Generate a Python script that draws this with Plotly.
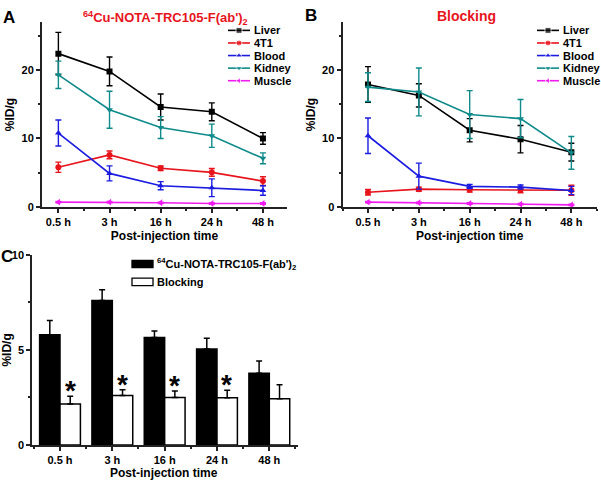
import plotly.graph_objects as go

## dados
times = ['0.5 h', '3 h', '16 h', '24 h', '48 h']
organs = ['Liver', '4T1', 'Blood', 'Kidney', 'Muscle']

# painel A - 64Cu-NOTA-TRC105-F(ab')2
a_liver = [22.4, 19.8, 14.6, 13.9, 10.0]
a_liver_err = [3.1, 2.1, 1.9, 1.3, 0.85]
a_4t1 = [5.8, 7.6, 5.65, 5.05, 3.77]
a_4t1_err = [0.75, 0.57, 0.34, 0.56, 0.65]
a_blood = [10.8, 4.9, 3.1, 2.8, 2.4]
a_blood_err = [1.9, 1.1, 0.6, 1.3, 0.7]
a_kidney = [19.3, 14.2, 11.6, 10.4, 7.1]
a_kidney_err = [2.0, 2.7, 1.6, 1.7, 0.8]
a_muscle = [0.7, 0.7, 0.6, 0.5, 0.5]
a_muscle_err = [0.1, 0.1, 0.1, 0.1, 0.1]

# painel B - Blocking
b_liver = [17.9, 16.3, 11.2, 9.9, 8.0]
b_liver_err = [2.6, 1.7, 1.7, 2.0, 1.3]
b_4t1 = [2.15, 2.6, 2.5, 2.48, 2.43]
b_4t1_err = [0.41, 0.3, 0.34, 0.4, 0.74]
b_blood = [10.4, 4.5, 3.0, 2.9, 2.4]
b_blood_err = [2.6, 1.9, 0.3, 0.3, 0.6]
b_kidney = [17.5, 16.8, 13.5, 12.9, 7.9]
b_kidney_err = [2.1, 3.5, 3.5, 2.8, 2.4]
b_muscle = [0.7, 0.6, 0.5, 0.4, 0.3]
b_muscle_err = [0.1, 0.1, 0.1, 0.1, 0.1]

signif = [True, True, True, True, False]

colors = ['black', '#e8141c', '#1c1ce0', '#0f8a8a', '#f01cf0']
symbols = ['square', 'circle', 'triangle-up', 'triangle-down', 'triangle-left']
bar_names = ['<sup>64</sup>Cu-NOTA-TRC105-F(ab\')<sub>2</sub>', 'Blocking']
bar_fill = ['black', 'white']

FONT = 'Liberation Sans, Arial, sans-serif'

# posicao numerica das categorias (para ter ticks menores entre elas)
idx = list(range(len(times)))
between = [i - 0.5 for i in idx] + [idx[-1] + 0.5]

fig = go.Figure()

panel_a = [(a_liver, a_liver_err), (a_4t1, a_4t1_err), (a_blood, a_blood_err),
           (a_kidney, a_kidney_err), (a_muscle, a_muscle_err)]
panel_b = [(b_liver, b_liver_err), (b_4t1, b_4t1_err), (b_blood, b_blood_err),
           (b_kidney, b_kidney_err), (b_muscle, b_muscle_err)]

for panel, xa, ya in [(panel_a, 'x', 'y'), (panel_b, 'x2', 'y2')]:
    for i, (vals, errs) in enumerate(panel):
        fig.add_trace(go.Scatter(x=idx, y=vals, xaxis=xa, yaxis=ya,
                                 mode='lines+markers', name=organs[i], showlegend=False,
                                 line=dict(color=colors[i], width=1.6),
                                 marker=dict(symbol=symbols[i], size=6, color=colors[i]),
                                 error_y=dict(type='data', array=errs, color=colors[i],
                                              thickness=1.4, width=3)))

# legendas compactas (A e B) num eixo auxiliar em pixels
for x0 in [228, 537]:
    for i, name in enumerate(organs):
        row = 25 + 12.9 * i
        fig.add_trace(go.Scatter(x=[x0, x0 + 11, x0 + 22], y=[row] * 3, xaxis='x4', yaxis='y4',
                                 mode='lines+markers', showlegend=False, hoverinfo='skip',
                                 line=dict(color=colors[i], width=1.6),
                                 marker=dict(symbol=symbols[i], size=[0, 6, 0], color=colors[i])))
        fig.add_annotation(x=x0 + 24, y=row, xref='x4', yref='y4', text=name, showarrow=False,
                           xanchor='left', yanchor='middle',
                           font=dict(size=11, color='black', family=FONT, weight='bold'))

# painel C - barras 4T1
for vals, errs, name, fill in [(a_4t1, a_4t1_err, bar_names[0], bar_fill[0]),
                               (b_4t1, b_4t1_err, bar_names[1], bar_fill[1])]:
    fig.add_trace(go.Bar(x=idx, y=vals, xaxis='x3', yaxis='y3', name=name, showlegend=False,
                         marker=dict(color=fill, line=dict(color='black', width=1.5)),
                         error_y=dict(type='data', symmetric=False, array=errs,
                                      arrayminus=[0] * 5, color='black', thickness=1.5, width=3)))

# legenda do painel C (retangulos largos como no original)
for i, (name, fill) in enumerate(zip(bar_names, bar_fill)):
    row = 264.5 + 18.3 * i
    fig.add_shape(type='rect', xref='x4', yref='y4', x0=132, x1=153, y0=row - 3.8, y1=row + 3.8,
                  fillcolor=fill, line=dict(color='black', width=1.3))
    fig.add_annotation(x=155, y=row, xref='x4', yref='y4', text=name, showarrow=False,
                       xanchor='left', yanchor='middle',
                       font=dict(size=11, color='black', family=FONT, weight='bold'))

# asteriscos
for i, v, e, s in zip(idx, b_4t1, b_4t1_err, signif):
    if s:
        fig.add_annotation(x=i, y=v + e, xref='x3', yref='y3', text='*',
                           showarrow=False, yanchor='bottom', xshift=10, yshift=-12,
                           font=dict(size=28, color='black', family=FONT, weight='bold'))

axis_common = dict(showline=True, linecolor='#222222', linewidth=2, showgrid=False,
                   zeroline=False, ticks='outside', ticklen=4, tickwidth=1.5,
                   tickcolor='#222222',
                   tickfont=dict(size=11, color='black', family=FONT, weight='bold'))
title_font = dict(size=12, color='black', family=FONT, weight='bold')
minor_t = dict(ticklen=2, ticks='outside', tickcolor='#222222', tickwidth=1.5)
x_ticks = dict(tickmode='array', tickvals=idx, ticktext=times,
               minor=dict(tickvals=between, **minor_t))

fig.update_layout(
    width=601, height=487,
    margin=dict(l=0, r=0, t=0, b=0),
    paper_bgcolor='white', plot_bgcolor='rgba(0,0,0,0)',
    font=dict(family=FONT, color='black'),
    barmode='group', bargap=0.22, bargroupgap=0,
    xaxis=dict(domain=[0.0699, 0.4775], range=[-0.32, 4.47], anchor='y',
               title=dict(text='Post-injection time', font=title_font, standoff=4),
               **x_ticks, **axis_common),
    yaxis=dict(domain=[0.577, 0.966], range=[0, 27], anchor='x', tickvals=[0, 10, 20],
               minor=dict(tickvals=[5, 15, 25], **minor_t),
               title=dict(text='%ID/g', font=title_font, standoff=4), **axis_common),
    xaxis2=dict(domain=[0.570, 0.993], range=[-0.5, 4.5], anchor='y2',
                title=dict(text='Post-injection time', font=title_font, standoff=4),
                **x_ticks, **axis_common),
    yaxis2=dict(domain=[0.577, 0.966], range=[0, 27], anchor='x2', tickvals=[0, 10, 20],
                minor=dict(tickvals=[5, 15, 25], **minor_t),
                title=dict(text='%ID/g', font=title_font, standoff=4), **axis_common),
    xaxis3=dict(domain=[0.0537, 0.496], range=[-0.53, 4.55], anchor='y3',
                **x_ticks, **axis_common),
    yaxis3=dict(domain=[0.076, 0.476], range=[0, 10], anchor='x3', tickvals=[0, 5, 10],
                minor=dict(tickvals=[2.5, 7.5], **minor_t),
                title=dict(text='%ID/g', font=title_font, standoff=2), **axis_common),
    xaxis4=dict(domain=[0, 1], range=[0, 601], anchor='y4', visible=False, fixedrange=True),
    yaxis4=dict(domain=[0, 1], range=[487, 0], anchor='x4', visible=False, fixedrange=True),
)

# titulo do eixo x do painel C (abaixo da margem)
fig.add_annotation(x=164 / 601, y=1 - 479 / 487, xref='paper', yref='paper', showarrow=False,
                   xanchor='center', yanchor='middle', text='Post-injection time',
                   font=title_font)

# titulos e letras dos paineis
fig.add_annotation(x=165 / 601, y=1 - 12 / 487, xref='paper', yref='paper', showarrow=False,
                   xanchor='center', yanchor='middle',
                   text='<sup>64</sup>Cu-NOTA-TRC105-F(ab\')<sub>2</sub>',
                   font=dict(size=13, color='#e8141c', family=FONT, weight='bold'))
fig.add_annotation(x=466 / 601, y=1 - 10 / 487, xref='paper', yref='paper', showarrow=False,
                   xanchor='center', yanchor='middle',
                   text='Blocking', font=dict(size=14, color='#e8141c', family=FONT, weight='bold'))
for letter, px, py in [('A', 9, 12), ('B', 311, 10), ('C', 7, 257)]:
    fig.add_annotation(x=px / 601, y=1 - py / 487, xref='paper', yref='paper', showarrow=False,
                       xanchor='center', yanchor='middle', text=letter,
                       font=dict(size=17, color='black', family=FONT, weight='bold'))

fig.write_html("out.html", config={'displayModeBar': False},
               post_script="document.body.style.margin='0';")
